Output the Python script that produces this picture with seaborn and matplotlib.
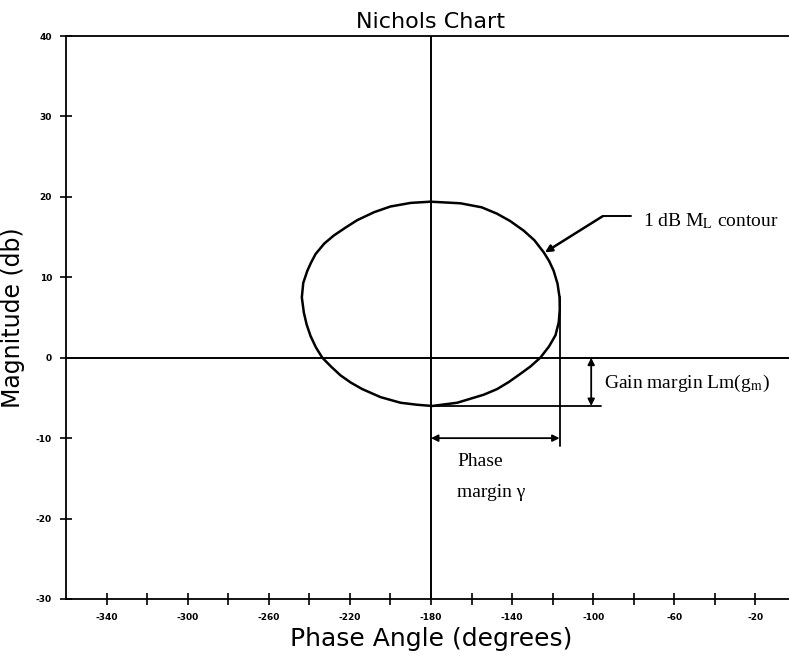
import numpy as np
import pandas as pd
import matplotlib
matplotlib.use("Agg")
import matplotlib.pyplot as plt
import seaborn as sns

# ---- data ----
ml_phase = [-180.2, -165.5, -155.0, -147.4, -141.0, -134.3, -129.0, -124.4, -121.7,
            -119.5, -117.6, -116.6, -116.5, -117.0, -118.6, -121.8, -126.1,
            -131.0, -135.9, -141.5, -147.4, -154.0, -167.1, -179.4, -186.8,
            -195.0, -204.9, -213.9, -219.5, -224.6, -229.3, -233.6, -236.8,
            -239.4, -241.3, -242.7, -243.7, -243.0, -241.0, -239.2, -236.9,
            -232.6, -227.9, -222.0, -216.4, -208.0, -200.0, -190.0, -180.2]
ml_mag = [19.4, 19.2, 18.7, 17.9, 17.0, 15.8, 14.6, 13.1, 12.0,
          10.8, 9.2, 7.5, 6.0, 4.4, 2.8, 1.4, 0.0,
          -1.1, -2.0, -3.0, -3.9, -4.6, -5.6, -6.0, -5.85,
          -5.6, -4.9, -3.9, -3.1, -2.2, -1.1, 0.0, 1.3,
          2.7, 4.1, 5.6, 7.5, 9.3, 10.8, 11.8, 12.9,
          14.2, 15.2, 16.2, 17.1, 18.1, 18.8, 19.25, 19.4]
x_major = [-340, -300, -260, -220, -180, -140, -100, -60, -20]
x_minor = [-320, -280, -240, -200, -160, -120, -80, -40]
y_ticks = [-30, -20, -10, 0, 10, 20, 30, 40]

crossover_phase = -180
pm_phase = -116.6        # phase at gain crossover (rightmost point)
pm_top = 7.5
pm_bottom = -11.0
pm_arrow_mag = -10.0
gm_mag = -6.0
gm_line_end = -96.0
gm_arrow_phase = -101.0
leader_pts_phase = [-81.5, -95.3]
leader_pts_mag = [17.6, 17.6]
leader_tip = (-123.8, 13.1)

sns.set_style("ticks")
plt.rcParams['font.family'] = ['DejaVu Sans']
plt.rcParams['mathtext.fontset'] = 'stix'
plt.rcParams['text.color'] = 'black'
plt.rcParams['axes.labelcolor'] = 'black'
plt.rcParams['xtick.color'] = 'black'
plt.rcParams['ytick.color'] = 'black'

fig = plt.figure(figsize=(7.89, 6.54), dpi=100)
ax = fig.add_axes([66/789, 55/654, 730/789, 563/654])

df = pd.DataFrame({"phase": ml_phase, "mag": ml_mag})
sns.lineplot(data=df, x="phase", y="mag", sort=False, estimator=None,
             color="black", linewidth=1.8, ax=ax)

ax.set_xlim(-360, 0)
ax.set_ylim(-30, 40)

# reference lines
ax.axvline(crossover_phase, color="black", linewidth=1.4)
ax.axhline(0, color="black", linewidth=1.4)

# phase margin construction
ax.plot([pm_phase, pm_phase], [pm_top, pm_bottom], color="black", linewidth=1.3)
ax.annotate("", xy=(crossover_phase, pm_arrow_mag), xytext=(pm_phase, pm_arrow_mag),
            arrowprops=dict(arrowstyle="<|-|>", color="black", lw=1.3,
                            shrinkA=0, shrinkB=0, mutation_scale=10))
# gain margin construction
ax.plot([crossover_phase, gm_line_end], [gm_mag, gm_mag], color="black", linewidth=1.3)
ax.annotate("", xy=(gm_arrow_phase, 0), xytext=(gm_arrow_phase, gm_mag),
            arrowprops=dict(arrowstyle="<|-|>", color="black", lw=1.3,
                            shrinkA=0, shrinkB=0, mutation_scale=10))

# leader for contour label
ax.plot(leader_pts_phase, leader_pts_mag, color="black", linewidth=1.4)
ax.annotate("", xy=leader_tip, xytext=(leader_pts_phase[1], leader_pts_mag[1]),
            arrowprops=dict(arrowstyle="-|>", color="black", lw=1.8,
                            shrinkA=0, shrinkB=0, mutation_scale=10))

serif = ['Liberation Serif', 'DejaVu Serif']
ax.text(-75.5, 17.0, r"1 dB M$_\mathrm{L}$ contour", family=serif, fontsize=14,
        ha="left", va="center", color="black")
ax.text(-94.5, -3.2, r"Gain margin Lm(g$_\mathrm{m}$)", family=serif, fontsize=14,
        ha="left", va="center", color="black")
ax.text(-167, -12.9, "Phase", family=serif, fontsize=14, ha="left", va="center",
        color="black")
ax.text(-167, -16.8, "margin \u03b3", family=serif, fontsize=14, ha="left",
        va="center", color="black")

# ticks
ax.set_xticks(x_major)
ax.set_xticklabels([str(v) for v in x_major])
ax.set_xticks(x_minor, minor=True)
ax.set_yticks(y_ticks)
ax.set_yticklabels([str(v) for v in y_ticks])
ax.tick_params(axis="both", which="both", direction="inout", length=8, width=1.2,
               color="black")
ax.tick_params(axis="both", which="major", labelsize=6.5, pad=6)
for lab in ax.get_xticklabels() + ax.get_yticklabels():
    lab.set_fontweight("bold")

for side in ["left", "top", "bottom", "right"]:
    ax.spines[side].set_visible(True)
    ax.spines[side].set_color("black")
    ax.spines[side].set_linewidth(1.3)

ax.set_title("Nichols Chart", fontsize=16, pad=6, color="black")
ax.set_xlabel("Phase Angle (degrees)", fontsize=18, labelpad=4)
ax.set_ylabel("Magnitude (db)", fontsize=17, labelpad=8)

fig.savefig("out.png", dpi=100)
